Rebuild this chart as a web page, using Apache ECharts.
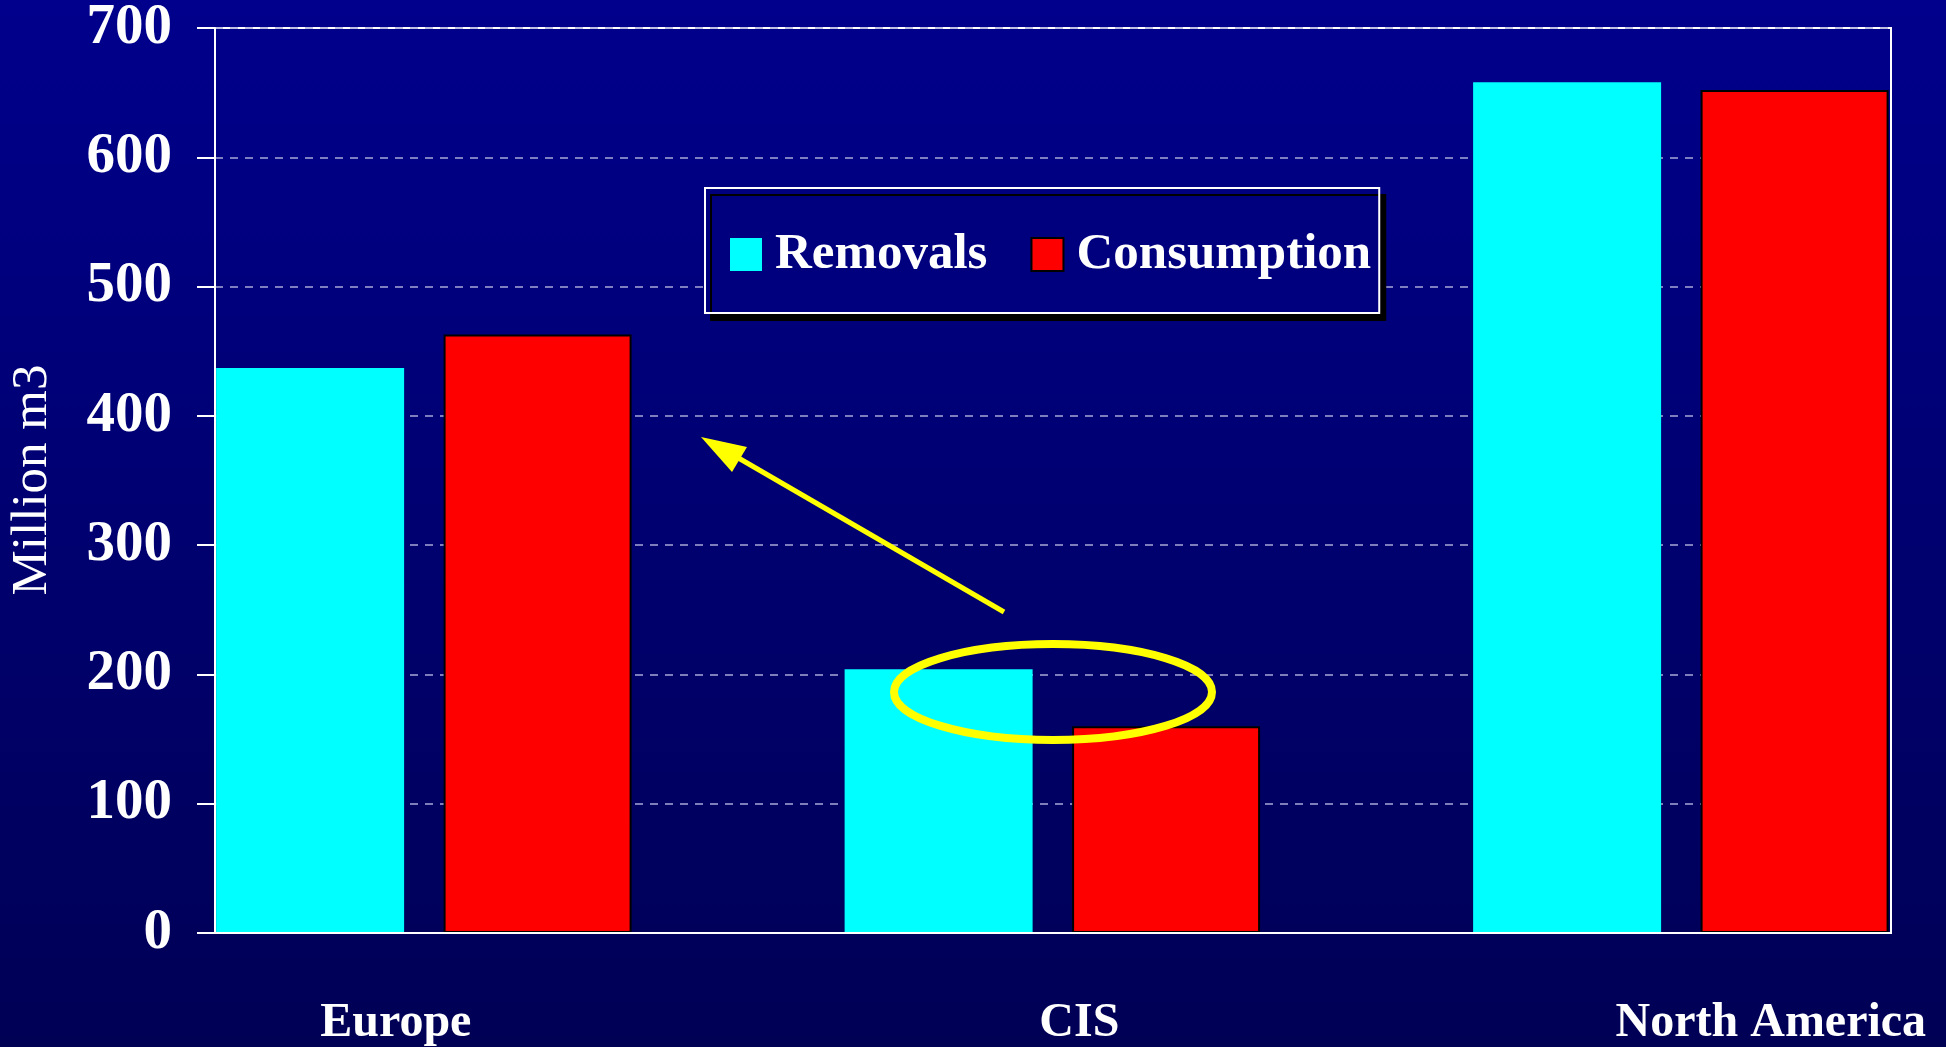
<!DOCTYPE html>
<html>
<head>
<meta charset="utf-8">
<title>Removals vs Consumption</title>
<script src="https://cdn.jsdelivr.net/npm/echarts@6/dist/echarts.min.js"></script>
<style>
html, body {
    margin: 0;
    padding: 0;
    background: #000070;
}
#mychart {
    width: 1946px;
    height: 1047px;
}
</style>
</head>
<body>
<div id="mychart"></div>
<script>
// data
var regions = ["Europe", "CIS", "North America"];
var removals = [437, 204, 658];
var consumption = [463, 160, 652];
var yTicks = [0, 100, 200, 300, 400, 500, 600, 700];

var serifFont = "'Liberation Serif', 'Times New Roman', serif";

// the region labels sit a bit off the bar groups in the original
var labelShift = {
    "Europe": [0, 56, 0, 0],
    "CIS": [0, 0, 0, 54],
    "North America": [0, 0, 0, 180],
};

var myChart = echarts.init(document.getElementById("mychart"));

myChart.setOption({
    backgroundColor: {
        type: "linear",
        x: 0, y: 0, x2: 0, y2: 1,
        colorStops: [
            { offset: 0, color: "#00008c" },
            { offset: 1, color: "#000055" },
        ],
    },
    animation: false,
    legend: {
        left: 705,
        top: 188,
        data: ["Removals", "Consumption"],
        icon: "rect",
        itemWidth: 32,
        itemHeight: 33,
        itemGap: 43,
        padding: [41, 8, 33, 25],
        backgroundColor: "#00007f",
        borderColor: "#ffffff",
        borderWidth: 2,
        borderRadius: 0,
        shadowColor: "#000000",
        shadowBlur: 0,
        shadowOffsetX: 6,
        shadowOffsetY: 7,
        textStyle: {
            color: "#ffffff",
            fontFamily: serifFont,
            fontWeight: "bold",
            fontSize: 51,
            padding: [0, 0, 0, 8],
        },
    },
    grid: [
        // bars
        { left: 109.6, top: 28, width: 1885.5, height: 905, outerBoundsMode: "none" },
        // frame + value axis
        {
            left: 215, top: 28, width: 1676, height: 905,
            outerBoundsMode: "none",
            show: true,
            borderColor: "#ffffff",
            borderWidth: 2,
        },
    ],
    xAxis: [
        {
            type: "category",
            gridIndex: 0,
            data: regions,
            axisLine: { show: false },
            axisTick: { show: false },
            axisLabel: {
                margin: 67,
                formatter: function (v) {
                    return "{" + (v === "Europe" ? "a" : v === "CIS" ? "b" : "c") + "|" + v + "}";
                },
                rich: {
                    a: { color: "#fff", fontFamily: serifFont, fontWeight: "bold", fontSize: 48, padding: labelShift["Europe"] },
                    b: { color: "#fff", fontFamily: serifFont, fontWeight: "bold", fontSize: 48, padding: labelShift["CIS"] },
                    c: { color: "#fff", fontFamily: serifFont, fontWeight: "bold", fontSize: 48, padding: labelShift["North America"] },
                },
            },
        },
        {
            type: "value",
            gridIndex: 1,
            min: 0,
            max: 1,
            z: 3,
            axisLine: { show: true, lineStyle: { color: "#ffffff", width: 2 } },
            axisTick: { show: false },
            axisLabel: { show: false },
            splitLine: { show: false },
        },
    ],
    yAxis: [
        {
            type: "value",
            gridIndex: 0,
            min: yTicks[0],
            max: yTicks[yTicks.length - 1],
            interval: 100,
            show: false,
        },
        {
            type: "value",
            gridIndex: 1,
            min: yTicks[0],
            max: yTicks[yTicks.length - 1],
            interval: 100,
            axisLine: { show: true, lineStyle: { color: "#ffffff", width: 2 } },
            axisTick: { show: true, length: 18, lineStyle: { color: "#ffffff", width: 2 } },
            axisLabel: {
                margin: 43,
                color: "#ffffff",
                fontFamily: serifFont,
                fontWeight: "bold",
                fontSize: 57,
            },
            splitLine: {
                show: true,
                lineStyle: {
                    type: [8, 7],
                    color: "#a8a8d8",
                    width: 1.5,
                },
            },
        },
    ],
    series: [
        {
            name: "Removals",
            type: "bar",
            xAxisIndex: 0,
            yAxisIndex: 0,
            data: removals,
            barWidth: 188,
            barGap: "21%",
            itemStyle: { color: "#00ffff" },
        },
        {
            name: "Consumption",
            type: "bar",
            xAxisIndex: 0,
            yAxisIndex: 0,
            data: consumption,
            barWidth: 188,
            barGap: "21%",
            itemStyle: { color: "#ff0000", borderColor: "#000000", borderWidth: 2 },
        },
    ],
    graphic: [
        {
            type: "text",
            x: 33,
            y: 480,
            rotation: Math.PI / 2,
            style: {
                text: "Million m3",
                fill: "#ffffff",
                font: "51px " + serifFont,
                align: "center",
                verticalAlign: "middle",
            },
        },
        // yellow arrow pointing at Europe
        {
            type: "line",
            z: 10,
            shape: { x1: 1004, y1: 612, x2: 735, y2: 456 },
            style: { stroke: "#ffff00", lineWidth: 5 },
        },
        {
            type: "polygon",
            z: 10,
            shape: { points: [[701, 437], [747, 447], [732, 472]] },
            style: { fill: "#ffff00" },
        },
        // ellipse round the CIS bars
        {
            type: "ellipse",
            z: 10,
            shape: { cx: 1053, cy: 692, rx: 159, ry: 48 },
            style: { fill: null, stroke: "#ffff00", lineWidth: 8 },
        },
    ],
});

window.addEventListener("resize", function () {
    myChart.resize();
});
</script>
</body>
</html>
